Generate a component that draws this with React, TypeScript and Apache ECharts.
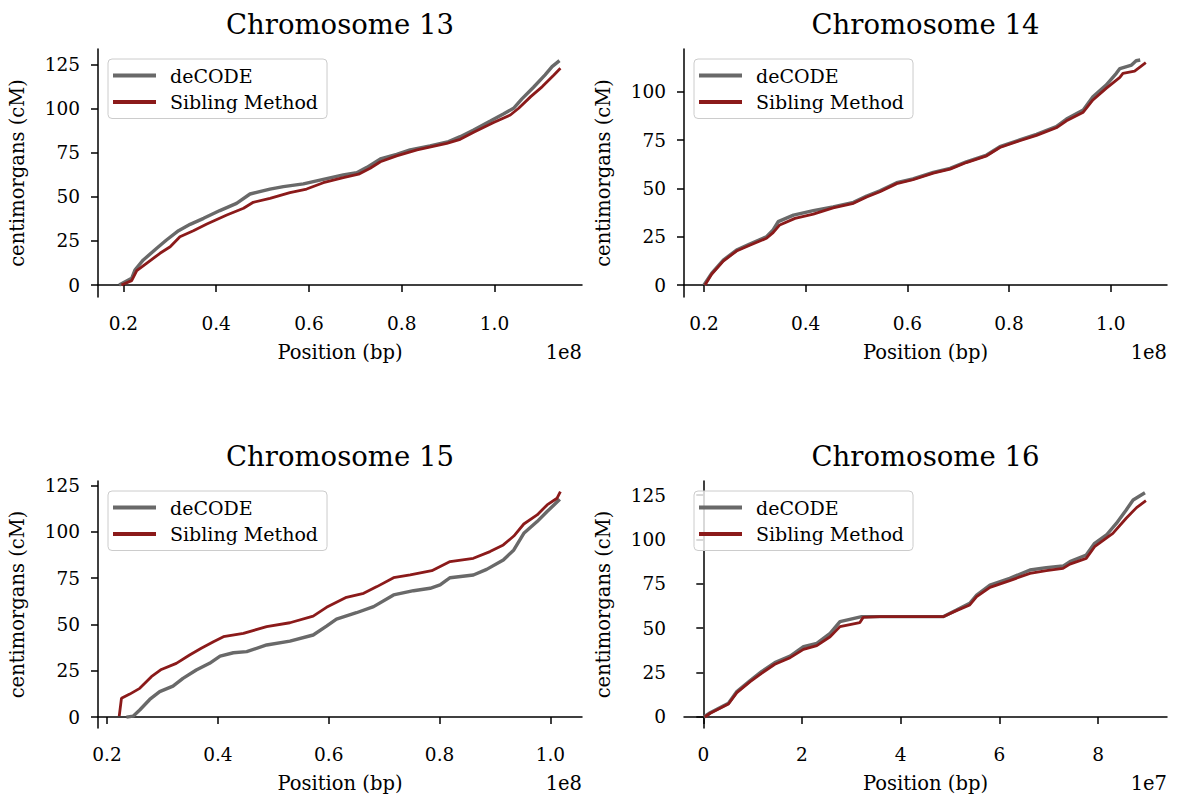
import React, { useEffect, useRef } from "react";
import * as echarts from "echarts";

// Positions in Mb (1 Mb = 1e6 bp), genetic map in cM
const chr13DecodePos = [19.1, 21.8, 22.5, 24.3, 27.2, 29.3, 31.9, 34.4, 37.3, 40.8, 44.4, 47.3, 51.6, 54.5, 58.8, 63.1, 67.4, 70.3, 72.5, 75.4, 78.9, 81.8, 86.1, 90.1, 92.6, 95.5, 99.1, 101.9, 104.1, 105.9, 108.4, 110.9, 112.4, 114.0];
const chr13DecodeCM = [0, 3.8, 8.5, 14.2, 20.8, 25.5, 30.8, 34.4, 37.8, 42.2, 46.3, 51.6, 54.4, 55.8, 57.3, 59.9, 62.4, 63.7, 66.7, 71.5, 74.1, 76.6, 78.8, 81.3, 84.1, 87.9, 93.0, 97.0, 100.2, 105.5, 112.1, 119.1, 123.8, 127.2];
const chr13SibPos = [19.6, 21.8, 22.9, 25.0, 27.9, 30.1, 32.2, 35.1, 38.0, 42.3, 45.9, 48.0, 51.6, 55.9, 59.5, 63.1, 67.4, 70.7, 73.2, 75.4, 78.9, 83.3, 89.7, 92.6, 95.5, 99.8, 103.4, 105.2, 107.8, 110.3, 112.8, 114.2];
const chr13SibCM = [0, 2.5, 8.1, 12.3, 18.0, 21.7, 27.4, 30.8, 34.6, 39.7, 43.5, 46.9, 49.1, 52.4, 54.4, 58.0, 60.9, 62.8, 66.2, 69.9, 73.2, 76.6, 80.3, 82.6, 86.6, 92.1, 96.4, 100.2, 106.8, 112.5, 119.1, 122.9];

const chr14DecodePos = [20.0, 21.5, 23.8, 26.4, 29.0, 32.3, 33.6, 34.6, 37.6, 41.5, 45.4, 49.4, 52.0, 54.6, 57.9, 61.1, 65.1, 68.4, 71.6, 75.6, 78.2, 82.1, 85.4, 89.3, 91.3, 94.6, 96.5, 99.1, 101.1, 101.8, 104.1, 105.0, 105.8];
const chr14DecodeCM = [0, 6.0, 12.9, 18.1, 21.2, 25.0, 28.5, 32.8, 36.2, 38.5, 40.5, 42.8, 46.1, 48.8, 53.0, 54.9, 58.3, 60.4, 63.8, 67.3, 71.6, 75.1, 78.0, 82.0, 85.9, 90.6, 97.5, 103.5, 109.6, 112.1, 113.9, 116.1, 116.5];
const chr14SibPos = [20.2, 21.5, 23.8, 26.4, 29.0, 32.3, 33.6, 34.9, 37.9, 41.5, 45.4, 49.4, 52.0, 54.6, 57.9, 61.1, 65.1, 68.4, 71.6, 75.6, 78.2, 82.1, 85.4, 89.3, 91.3, 94.6, 96.5, 99.1, 101.8, 102.4, 104.7, 106.9];
const chr14SibCM = [0, 5.6, 12.4, 17.6, 20.6, 24.2, 27.1, 31.1, 34.5, 36.7, 39.9, 42.3, 45.6, 48.3, 52.5, 54.5, 57.9, 60.0, 63.4, 66.9, 71.2, 74.7, 77.5, 81.4, 85.0, 89.5, 95.8, 101.8, 107.5, 109.6, 110.8, 115.1];

const chr15DecodePos = [23.5, 24.7, 25.9, 27.7, 29.5, 31.9, 33.7, 36.1, 38.5, 40.4, 42.8, 45.2, 48.8, 53.0, 57.2, 59.6, 61.4, 65.0, 68.1, 71.7, 75.3, 78.3, 80.1, 81.9, 86.1, 88.5, 91.5, 93.4, 95.2, 97.6, 99.4, 101.7];
const chr15DecodeCM = [0, 0.5, 3.8, 9.5, 13.7, 16.7, 20.9, 25.4, 29.0, 32.9, 34.7, 35.3, 38.9, 41.0, 44.3, 49.1, 52.9, 56.3, 59.6, 65.9, 68.2, 69.5, 71.3, 75.2, 76.7, 79.7, 84.8, 90.2, 99.2, 105.5, 110.9, 117.5];
const chr15SibPos = [22.2, 22.6, 24.1, 25.9, 28.0, 29.8, 32.5, 34.9, 37.0, 39.2, 41.0, 44.6, 48.8, 53.0, 57.2, 59.6, 63.2, 66.3, 68.7, 71.7, 74.7, 78.6, 81.9, 86.1, 89.1, 91.5, 93.4, 95.2, 97.6, 99.4, 101.2, 101.8];
const chr15SibCM = [0.5, 10.1, 12.4, 15.5, 21.8, 25.7, 29.0, 33.5, 37.1, 40.7, 43.4, 45.2, 48.8, 50.9, 54.5, 59.2, 64.6, 66.8, 70.4, 75.2, 76.7, 79.0, 83.9, 85.7, 89.3, 92.9, 97.7, 104.2, 109.1, 114.5, 118.1, 121.7];

const chr16DecodePos = [0.1, 1.4, 5.1, 6.8, 9.5, 11.8, 14.5, 17.6, 20.3, 23.0, 25.7, 27.7, 32.1, 35.8, 42.5, 48.6, 51.3, 54.0, 55.4, 58.1, 62.1, 66.2, 69.5, 72.9, 74.3, 77.6, 79.3, 81.7, 83.7, 85.7, 87.1, 89.5];
const chr16DecodeCM = [0, 2.4, 7.7, 14.3, 20.5, 25.5, 30.6, 34.3, 39.6, 41.5, 47.1, 53.7, 56.5, 56.5, 56.5, 56.5, 60.2, 64.0, 68.7, 74.3, 78.1, 82.8, 84.1, 85.0, 87.5, 91.2, 97.8, 102.5, 109.0, 116.6, 122.2, 126.3];
const chr16SibPos = [0.3, 1.4, 5.1, 6.8, 9.5, 11.8, 14.5, 17.6, 20.3, 23.0, 25.7, 27.7, 31.7, 32.4, 35.8, 48.6, 51.3, 54.0, 55.4, 58.1, 62.1, 66.2, 69.5, 72.9, 74.3, 77.6, 79.3, 83.0, 85.7, 87.8, 89.7];
const chr16SibCM = [0, 2.1, 7.3, 13.7, 19.9, 24.6, 29.7, 33.4, 38.1, 40.2, 45.2, 50.9, 53.1, 56.1, 56.5, 56.5, 59.9, 63.1, 67.8, 73.0, 76.8, 80.9, 82.4, 83.7, 86.1, 89.3, 95.9, 103.4, 111.9, 117.9, 121.8];

const titles = ["Chromosome 13", "Chromosome 14", "Chromosome 15", "Chromosome 16"];
const seriesNames = ["deCODE", "Sibling Method"];
const yTicks = [0, 25, 50, 75, 100, 125];
const yTicks14 = [0, 25, 50, 75, 100];
const xTicksE8 = [20, 40, 60, 80, 100];
const xTicksE7 = [0, 20, 40, 60, 80];
const offsetTexts = ["1e8", "1e8", "1e8", "1e7"];

const FONT = "'DejaVu Serif', serif";
const GRAY = "#696969";
const RED = "#8b1a1a";

const pairs = (xs: number[], ys: number[]) => xs.map((x, i) => [x, ys[i]]);

export default function App() {
  const ref = useRef<HTMLDivElement>(null);
  useEffect(() => {
    if (!ref.current) return;
    const chart = echarts.init(ref.current, null, { renderer: "svg" });

    const panels = [
      { left: 98, top: 49, width: 484, height: 248, xMin: 14.54, xMax: 118.85, yMin: -6.8, yMax: 133.8, xt: xTicksE8, yt: yTicks, scale: 100, dec: 1, data: [pairs(chr13DecodePos, chr13DecodeCM), pairs(chr13SibPos, chr13SibCM)] },
      { left: 684, top: 49, width: 483, height: 248, xMin: 16.07, xMax: 111.07, yMin: -6.2, yMax: 122.2, xt: xTicksE8, yt: yTicks14, scale: 100, dec: 1, data: [pairs(chr14DecodePos, chr14DecodeCM), pairs(chr14SibPos, chr14SibCM)] },
      { left: 98, top: 481, width: 484, height: 247, xMin: 18.37, xMax: 105.7, yMin: -5.9, yMax: 127.4, xt: xTicksE8, yt: yTicks, scale: 100, dec: 1, data: [pairs(chr15DecodePos, chr15DecodeCM), pairs(chr15SibPos, chr15SibCM)] },
      { left: 684, top: 481, width: 483, height: 247, xMin: -3.91, xMax: 93.97, yMin: -6.2, yMax: 132.9, xt: xTicksE7, yt: yTicks, scale: 10, dec: 0, data: [pairs(chr16DecodePos, chr16DecodeCM), pairs(chr16SibPos, chr16SibCM)] },
    ];

    const axisLine = { show: true, lineStyle: { color: "#000", width: 1.5 } };
    const axisTickBase = { show: true, length: 7, lineStyle: { color: "#000", width: 1.5 } };
    const tickLabel = { color: "#000", fontFamily: FONT, fontSize: 18.5 };
    const nameLabel = { color: "#000", fontFamily: FONT, fontSize: 19.5 };

    const option: any = {
      animation: false,
      backgroundColor: "#fff",
      title: panels.map((p, i) => ({
        text: titles[i],
        left: p.left + p.width / 2,
        top: p.top - 39,
        padding: 0,
        textAlign: "center",
        textStyle: { fontFamily: FONT, fontSize: 27.5, fontWeight: "normal", color: "#000" },
      })),
      grid: panels.map((p) => ({ left: p.left, top: p.top, width: p.width, height: p.height, containLabel: false })),
      xAxis: panels.map((p, i) => ({
        type: "value",
        gridIndex: i,
        min: p.xMin,
        max: p.xMax,
        splitLine: { show: false },
        axisLine,
        axisTick: { ...axisTickBase, customValues: p.xt },
        axisLabel: { ...tickLabel, margin: 17, customValues: p.xt, formatter: (v: number) => (v / p.scale).toFixed(p.dec) },
        name: "Position (bp)",
        nameLocation: "middle",
        nameGap: 45,
        nameTextStyle: { ...nameLabel, verticalAlign: "top" },
      })),
      yAxis: panels.map((p, i) => ({
        type: "value",
        gridIndex: i,
        min: p.yMin,
        max: p.yMax,
        splitLine: { show: false },
        axisLine,
        axisTick: { ...axisTickBase, customValues: p.yt },
        axisLabel: { ...tickLabel, margin: 18, customValues: p.yt, formatter: (v: number) => String(Math.round(v)) },
        name: "centimorgans (cM)",
        nameLocation: "middle",
        nameGap: 71,
        nameTextStyle: { ...nameLabel },
      })),
      legend: panels.map((p) => ({
        data: seriesNames,
        orient: "vertical",
        left: p.left + 10,
        top: p.top + 10,
        icon: "rect",
        itemWidth: 43,
        itemHeight: 3.8,
        itemGap: 7.5,
        padding: [7, 9, 7, 5],
        borderColor: "#cccccc",
        borderWidth: 1,
        borderRadius: 4,
        backgroundColor: "rgba(255,255,255,0.8)",
        textStyle: { color: "#000", fontFamily: FONT, fontSize: 19, padding: [0, 0, 0, 9] },
        selectedMode: false,
      })),
      graphic: panels.map((p, i) => ({
        type: "text",
        x: p.left + p.width,
        y: p.top + p.height + 45,
        style: { text: offsetTexts[i], textAlign: "right", textVerticalAlign: "top", fill: "#000", font: `19.5px ${FONT}` },
      })),
      series: panels.flatMap((p, i) => [
        { name: seriesNames[0], type: "line", xAxisIndex: i, yAxisIndex: i, data: p.data[0], showSymbol: false, symbol: "none", lineStyle: { color: GRAY, width: 3.4 }, itemStyle: { color: GRAY } },
        { name: seriesNames[1], type: "line", xAxisIndex: i, yAxisIndex: i, data: p.data[1], showSymbol: false, symbol: "none", lineStyle: { color: RED, width: 2.8 }, itemStyle: { color: RED } },
      ]),
    };
    chart.setOption(option);
    return () => chart.dispose();
  }, []);
  return <div ref={ref} style={{ position: "fixed", left: 0, top: 0, width: 1178, height: 799, background: "#fff" }} />;
}
